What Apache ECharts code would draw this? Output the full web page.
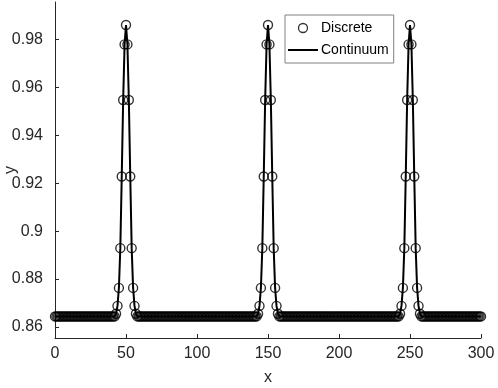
<!DOCTYPE html>
<html>
<head>
<meta charset="utf-8">
<script src="https://cdn.jsdelivr.net/npm/echarts@6/dist/echarts.min.js"></script>
<style>
  html, body { margin: 0; padding: 0; background: #fff; }
  #main { width: 498px; height: 388px; }
</style>
</head>
<body>
<div id="main"></div>
<script>
// values
const xFirst = 0
const xLast = 300
const baseline = 0.8644
const peakCenters = [50, 150, 250]
// offsets -7 .. +7 around each peak centre
const peakProfile = [0.8655, 0.8688, 0.8763, 0.8929, 0.9228, 0.9547, 0.9779, 0.9860,
  0.9779, 0.9547, 0.9228, 0.8929, 0.8763, 0.8688, 0.8655]
const yTicks = [0.86, 0.88, 0.9, 0.92, 0.94, 0.96, 0.98]
const xTicks = [0, 50, 100, 150, 200, 250, 300]

const half = (peakProfile.length - 1) / 2
const points = []
for (let x = xFirst; x <= xLast; x++) {
  let y = baseline
  peakCenters.forEach(c => {
    const k = x - c + half
    if (k >= 0 && k < peakProfile.length) y = peakProfile[k]
  })
  points.push([x, y])
}

const axisColor = '#262626'
const font = 'Liberation Sans'
const chart = echarts.init(document.getElementById('main'))
chart.setOption({
  animation: false,
  grid: { left: 55, right: 17, top: 2, bottom: 50, outerBoundsMode: 'none', containLabel: false },
  legend: {
    left: 285,
    top: 15,
    orient: 'vertical',
    itemWidth: 30,
    itemHeight: 9,
    itemGap: 8,
    padding: [6, 5, 6, 3],
    borderColor: '#808080',
    borderWidth: 1,
    textStyle: { color: '#000', fontSize: 14, fontFamily: font, padding: [0, 0, 0, -2] },
    data: [
      { name: 'Discrete', icon: 'circle', itemStyle: { color: 'transparent', borderColor: '#000', borderWidth: 1.3 } },
      { name: 'Continuum', icon: 'path://M0,0 L30,0 L30,2 L0,2 Z', itemStyle: { color: '#000', borderWidth: 0 } }
    ]
  },
  xAxis: {
    type: 'value',
    min: 0,
    max: 300,
    name: 'x',
    nameLocation: 'middle',
    nameGap: 32,
    nameMoveOverlap: false,
    nameTextStyle: { color: axisColor, fontSize: 16, fontFamily: font },
    axisLine: { lineStyle: { color: axisColor, width: 1 } },
    axisTick: { inside: true, length: 4, customValues: xTicks, lineStyle: { color: axisColor } },
    axisLabel: { customValues: xTicks, color: axisColor, fontSize: 16, fontFamily: font, margin: 8 },
    splitLine: { show: false }
  },
  yAxis: {
    type: 'value',
    min: 0.8554,
    max: 0.9956,
    name: 'y',
    nameLocation: 'middle',
    nameGap: 36,
    nameMoveOverlap: false,
    nameTextStyle: { color: axisColor, fontSize: 16, fontFamily: font },
    axisLine: { show: true, lineStyle: { color: axisColor, width: 1 } },
    axisTick: { show: true, inside: true, length: 4, customValues: yTicks, lineStyle: { color: axisColor } },
    axisLabel: { customValues: yTicks, color: axisColor, fontSize: 16, fontFamily: font, margin: 12 },
    splitLine: { show: false }
  },
  series: [
    {
      name: 'Continuum',
      type: 'line',
      data: points,
      symbol: 'none',
      lineStyle: { color: '#000', width: 2 },
      itemStyle: { color: '#000' },
      z: 2
    },
    {
      name: 'Discrete',
      type: 'scatter',
      data: points,
      symbol: 'circle',
      symbolSize: 9,
      itemStyle: { color: 'transparent', borderColor: '#000', borderWidth: 1.4 },
      z: 3
    }
  ]
})
</script>
</body>
</html>
